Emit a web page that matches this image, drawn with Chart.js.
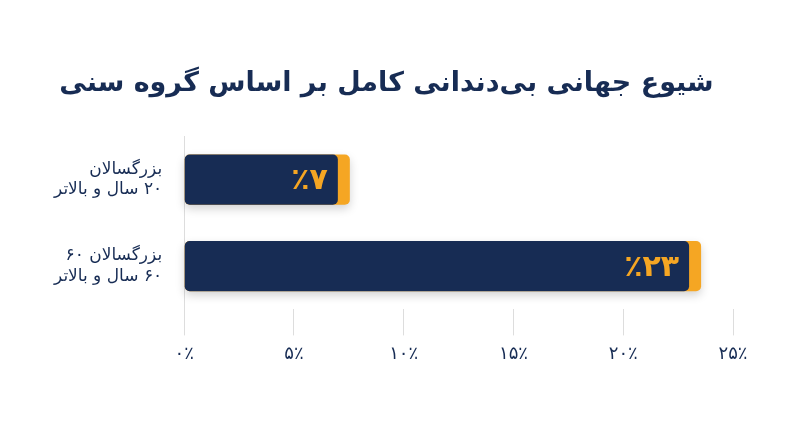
<!DOCTYPE html>
<html><head><meta charset="utf-8">
<script src="https://cdn.jsdelivr.net/npm/chart.js@4"></script>
<style>html,body{margin:0;background:#fff}#w{width:800px;height:447px}</style>
</head><body><div id="w"><canvas id="c" dir="rtl" style="direction:rtl"></canvas></div>
<script>
const categories=[["بزرگسالان","۲۰ سال و بالاتر"],["بزرگسالان ۶۰","۶۰ سال و بالاتر"]];
const values=[7,23];
const valueLabels=["٪۷","٪۲۳"];
const tickLabels=["۰٪","۵٪","۱۰٪","۱۵٪","۲۰٪","۲۵٪"];
const F="DejaVu Sans";
const accent={id:'accent',beforeDatasetsDraw(ch){const c=ch.ctx;ch.getDatasetMeta(0).data.forEach(b=>{const h=b.height;c.save();c.shadowColor='rgba(0,0,0,0.18)';c.shadowBlur=10;c.shadowOffsetY=4;c.fillStyle='#f5a623';c.beginPath();c.roundRect(b.base,b.y-h/2,b.x-b.base+12,h,5);c.fill();c.restore();});},
afterDatasetsDraw(ch){const c=ch.ctx;ch.getDatasetMeta(0).data.forEach((b,i)=>{c.save();c.fillStyle='#f5a623';c.font='bold 30px '+F;c.textAlign='right';c.textBaseline='middle';c.fillText(valueLabels[i],b.x-10,b.y+2);c.restore();});}};
new Chart(document.getElementById('c'),{type:'bar',
data:{labels:categories,datasets:[{data:values,backgroundColor:'#172c54',borderRadius:5,borderSkipped:false,barPercentage:0.58,categoryPercentage:1}]},
options:{indexAxis:'y',responsive:true,maintainAspectRatio:false,animation:false,
layout:{padding:{left:40,right:67,top:0,bottom:74}},
plugins:{legend:{display:false},tooltip:{enabled:false},title:{display:true,text:'شیوع جهانی بی‌دندانی کامل بر اساس گروه سنی',font:{family:F,size:27,weight:'bold'},color:'#172c54',padding:{top:68,bottom:36}}},
scales:{x:{min:0,max:25,position:'bottom',ticks:{stepSize:5,callback:(v,i)=>tickLabels[i],font:{family:F,size:18},color:'#172c54',padding:8},grid:{drawOnChartArea:false,tickLength:26,color:'#dddddd'},border:{display:false}},
y:{ticks:{font:{family:F,size:17},color:'#172c54',padding:14},grid:{display:false},border:{display:true,color:'#dddddd'}}}},
plugins:[accent]});
</script></body></html>
